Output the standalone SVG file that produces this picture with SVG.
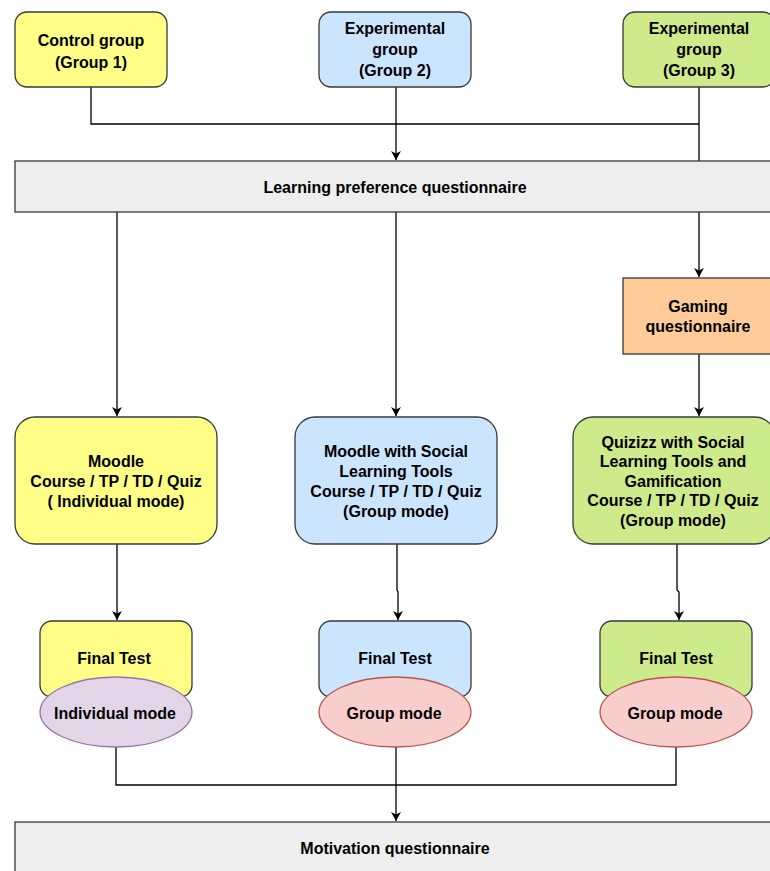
<svg xmlns="http://www.w3.org/2000/svg" width="770" height="871" viewBox="0 0 770 871">
<style>
.t{font-family:"Liberation Sans",Arial,sans-serif;font-size:16px;font-weight:bold;fill:#000;text-anchor:middle}
.b{stroke:#36393d;stroke-width:1.3}
.c{fill:none;stroke:#000;stroke-width:1.3}
</style>
<defs>
<marker id="ar" markerWidth="12" markerHeight="12" refX="9" refY="5" orient="auto" markerUnits="userSpaceOnUse">
<path d="M0,0 L9,5 L0,10 L2.5,5 Z" fill="#000"/>
</marker>
</defs>
<rect width="770" height="871" fill="#fff"/>
<g id="connectors">
<path class="c" d="M91,87 V124 H699"/>
<path class="c" d="M699,87 V161"/>
<path class="c" d="M396,87 V160" marker-end="url(#ar)"/>
<path class="c" d="M117,212 V416" marker-end="url(#ar)"/>
<path class="c" d="M396,212 V416" marker-end="url(#ar)"/>
<path class="c" d="M699,212 V277" marker-end="url(#ar)"/>
<path class="c" d="M699,354 V416" marker-end="url(#ar)"/>
<path class="c" d="M117,544 V620" marker-end="url(#ar)"/>
<path class="c" d="M397,544 V590 L398,592 V620" marker-end="url(#ar)"/>
<path class="c" d="M677,544 V590 L679,592 V620" marker-end="url(#ar)"/>
<path class="c" d="M116,747 V785 H676 V747"/>
<path class="c" d="M396,747 V821" marker-end="url(#ar)"/>
</g>
<g id="control">
<rect class="b" x="15" y="12" width="152" height="75" rx="12" fill="#ffff88"/>
<text class="t" x="91" y="46">Control group</text>
<text class="t" x="91" y="68">(Group 1)</text>
</g>
<g id="exp2">
<rect class="b" x="319" y="12" width="152" height="75" rx="12" fill="#cce5ff"/>
<text class="t" x="395" y="34">Experimental</text>
<text class="t" x="395" y="55">group</text>
<text class="t" x="395" y="76">(Group 2)</text>
</g>
<g id="exp3">
<rect class="b" x="623" y="12" width="152" height="75" rx="12" fill="#cdeb8b"/>
<text class="t" x="699" y="34">Experimental</text>
<text class="t" x="699" y="55">group</text>
<text class="t" x="699" y="76">(Group 3)</text>
</g>
<g id="lpq">
<rect class="b" x="15" y="161" width="770" height="51" fill="#eeeeee"/>
<text class="t" x="395" y="193">Learning preference questionnaire</text>
</g>
<g id="gaming">
<rect class="b" x="623" y="278" width="152" height="76" fill="#ffcc99"/>
<text class="t" x="698" y="312">Gaming</text>
<text class="t" x="698" y="332">questionnaire</text>
</g>
<g id="moodle">
<rect class="b" x="15" y="417" width="202" height="127" rx="20" fill="#ffff88"/>
<text class="t" x="116" y="467">Moodle</text>
<text class="t" x="116" y="487">Course / TP / TD / Quiz</text>
<text class="t" x="116" y="507">( Individual mode)</text>
</g>
<g id="moodle-social">
<rect class="b" x="295" y="417" width="202" height="127" rx="20" fill="#cce5ff"/>
<text class="t" x="396" y="457">Moodle with Social</text>
<text class="t" x="396" y="477">Learning Tools</text>
<text class="t" x="396" y="497">Course / TP / TD / Quiz</text>
<text class="t" x="396" y="517">(Group mode)</text>
</g>
<g id="quizizz">
<rect class="b" x="573" y="417" width="202" height="127" rx="20" fill="#cdeb8b"/>
<text class="t" x="673" y="448">Quizizz with Social</text>
<text class="t" x="673" y="467">Learning Tools and</text>
<text class="t" x="673" y="487">Gamification</text>
<text class="t" x="673" y="506">Course / TP / TD / Quiz</text>
<text class="t" x="673" y="526">(Group mode)</text>
</g>
<g id="final1">
<rect class="b" x="40" y="621" width="152" height="76" rx="12" fill="#ffff88"/>
<text class="t" x="114" y="664">Final Test</text>
</g>
<g id="mode1">
<ellipse cx="116" cy="712" rx="76" ry="35" fill="#e1d5e7" stroke="#9673a6" stroke-width="1.3"/>
<text class="t" x="115" y="719">Individual mode</text>
</g>
<g id="final2">
<rect class="b" x="319" y="621" width="152" height="76" rx="12" fill="#cce5ff"/>
<text class="t" x="395" y="664">Final Test</text>
</g>
<g id="mode2">
<ellipse cx="395" cy="712" rx="76" ry="35" fill="#f8cecc" stroke="#b85450" stroke-width="1.3"/>
<text class="t" x="394" y="719">Group mode</text>
</g>
<g id="final3">
<rect class="b" x="600" y="621" width="152" height="76" rx="12" fill="#cdeb8b"/>
<text class="t" x="676" y="664">Final Test</text>
</g>
<g id="mode3">
<ellipse cx="676" cy="712" rx="76" ry="35" fill="#f8cecc" stroke="#b85450" stroke-width="1.3"/>
<text class="t" x="675" y="719">Group mode</text>
</g>
<g id="mq">
<rect class="b" x="15" y="822" width="770" height="60" fill="#eeeeee"/>
<text class="t" x="395" y="854">Motivation questionnaire</text>
</g>
</svg>
